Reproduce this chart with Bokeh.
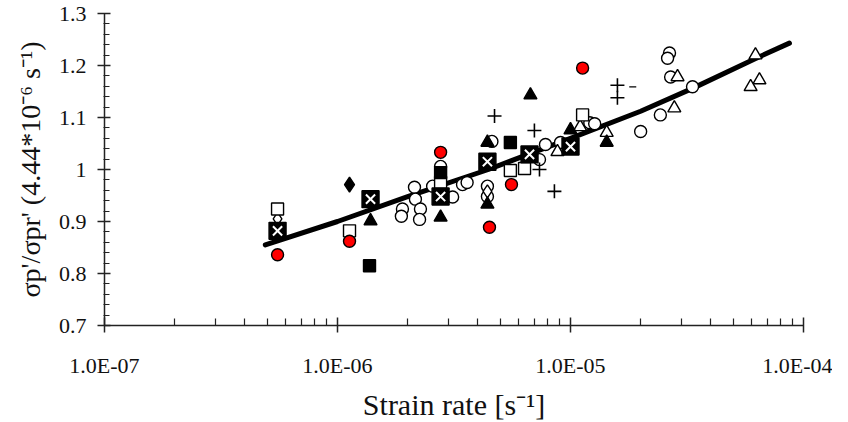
from bokeh.plotting import figure
from bokeh.models import Range1d, FixedTicker, CustomJSTickFormatter
from bokeh.embed import file_html
from bokeh.resources import INLINE

# ---------------- data ----------------
fit_x = [4.9e-7, 1.0e-6, 2.0e-6, 4.44e-6, 1.0e-5, 2.0e-5, 3.34e-5, 6.2e-5, 8.7e-5]
fit_y = [0.855, 0.900, 0.948, 1.000, 1.060, 1.112, 1.156, 1.213, 1.243]

open_circle_x = [1.90e-6, 1.88e-6, 2.14e-6, 2.16e-6, 2.27e-6, 2.25e-6, 2.56e-6, 2.77e-6, 3.12e-6,
                 3.44e-6, 3.60e-6, 4.40e-6, 4.40e-6, 4.60e-6, 7.36e-6, 7.81e-6, 9.06e-6, 1.21e-5,
                 1.27e-5, 2.0e-5, 2.43e-5, 2.66e-5, 2.61e-5, 2.69e-5, 3.34e-5]
open_circle_y = [0.924, 0.910, 0.966, 0.943, 0.924, 0.904, 0.968, 1.006, 0.947,
                 0.971, 0.975, 0.968, 0.948, 1.054, 1.019, 1.048, 1.052, 1.090,
                 1.088, 1.073, 1.105, 1.224, 1.214, 1.178, 1.159]

open_square_x = [5.53e-7, 1.126e-6, 2.77e-6, 5.52e-6, 6.35e-6, 1.127e-5]
open_square_y = [0.924, 0.882, 0.975, 0.998, 1.002, 1.105]

black_square_x = [1.372e-6, 2.77e-6, 5.52e-6]
black_square_y = [0.815, 0.994, 1.052]

xsquare_x = [5.53e-7, 1.386e-6, 2.77e-6, 4.40e-6, 6.67e-6, 1.0e-5]
xsquare_y = [0.882, 0.943, 0.948, 1.015, 1.029, 1.044]

red_circle_x = [5.53e-7, 1.126e-6, 2.77e-6, 4.49e-6, 5.58e-6, 1.127e-5]
red_circle_y = [0.836, 0.862, 1.033, 0.889, 0.971, 1.195]

black_tri_x = [1.386e-6, 2.77e-6, 4.40e-6, 4.40e-6, 6.73e-6, 1.0e-5, 1.43e-5]
black_tri_y = [0.901, 0.908, 1.052, 0.933, 1.143, 1.076, 1.052]

open_tri_x = [8.79e-6, 1.10e-5, 1.43e-5, 2.79e-5, 2.88e-5, 6.22e-5, 6.47e-5, 5.93e-5]
open_tri_y = [1.034, 1.082, 1.071, 1.118, 1.178, 1.220, 1.172, 1.159]

cross_x = [4.72e-6, 7.0e-6, 7.36e-6, 8.53e-6, 1.59e-5, 1.59e-5]
cross_y = [1.103, 1.075, 1.000, 0.958, 1.162, 1.138]

dash_x = [1.85e-5]
dash_y = [1.159]

black_diamond_x = [1.126e-6]
black_diamond_y = [0.971]

open_diamond_x = [5.53e-7, 4.40e-6]
open_diamond_y = [0.905, 0.958]

x_major = [1e-7, 1e-6, 1e-5, 1e-4]
y_major = [0.7, 0.8, 0.9, 1.0, 1.1, 1.2, 1.3]

# ---------------- figure ----------------
FONT = "Liberation Serif"
p = figure(x_axis_type="log", output_backend="svg", toolbar_location=None,
           frame_width=699, frame_height=312, min_border_left=104, min_border_right=29,
           min_border_top=13, min_border_bottom=80,
           x_range=Range1d(1e-7, 1e-4), y_range=Range1d(0.7, 1.3))
p.outline_line_color = None
p.xgrid.visible = False
p.ygrid.visible = False
p.background_fill_color = "white"
p.border_fill_color = "white"

x_minor = [m * d for d in x_major[:-1] for m in range(2, 10)]
y_minor = [round(0.7 + 0.02 * i, 2) for i in range(31)]

xa = p.xaxis[0]
xa.ticker = FixedTicker(ticks=x_major, minor_ticks=x_minor)
xa.formatter = CustomJSTickFormatter(code="""
const e = Math.round(Math.log10(tick));
const a = Math.abs(e);
return "1.0E" + (e < 0 ? "-" : "+") + (a < 10 ? "0" : "") + a;
""")
xa.major_tick_in = 8
xa.major_tick_out = 7
xa.minor_tick_in = 7
xa.minor_tick_out = 0
xa.major_label_standoff = 20
xa.axis_label = "Strain rate [s\u207b\u00b9]"
xa.axis_label_standoff = 7

ya = p.yaxis[0]
ya.ticker = FixedTicker(ticks=y_major, minor_ticks=y_minor)
ya.formatter = CustomJSTickFormatter(code="return String(Math.round(tick*10)/10);")
ya.major_tick_in = 6
ya.major_tick_out = 7
ya.minor_tick_in = 5
ya.minor_tick_out = 1
ya.major_label_standoff = 11
ya.axis_label = "\u03c3p'/\u03c3pr' (4.44*10\u207b\u2076 s\u207b\u00b9)"
ya.axis_label_standoff = 10

for ax in (xa, ya):
    ax.axis_line_color = "#222222"
    ax.axis_line_width = 1.5
    ax.major_tick_line_color = "#222222"
    ax.major_tick_line_width = 1.5
    ax.minor_tick_line_color = "#222222"
    ax.minor_tick_line_width = 1.2
    ax.major_label_text_font = FONT
    ax.major_label_text_font_size = "22px"
    ax.major_label_text_color = "#111111"
    ax.axis_label_text_font = FONT
    ax.axis_label_text_font_style = "normal"
    ax.axis_label_text_color = "#111111"
xa.axis_label_text_font_size = "30px"
ya.axis_label_text_font_size = "28px"

# fit line
p.line(fit_x, fit_y, line_color="black", line_width=5, line_cap="round", line_join="round")

lw = 1.4
p.scatter(open_circle_x, open_circle_y, marker="circle", size=12,
          fill_color="white", line_color="black", line_width=lw)
p.scatter(open_diamond_x, open_diamond_y, marker="diamond", size=13,
          fill_color="white", line_color="black", line_width=lw)
p.scatter(open_tri_x, open_tri_y, marker="triangle", size=13,
          fill_color="white", line_color="black", line_width=lw)
p.scatter(black_tri_x, black_tri_y, marker="triangle", size=13,
          fill_color="black", line_color="black", line_width=lw)
p.scatter(open_square_x, open_square_y, marker="square", size=12,
          fill_color="white", line_color="black", line_width=lw)
p.scatter(black_square_x, black_square_y, marker="square", size=12,
          fill_color="black", line_color="black", line_width=lw)
p.scatter(xsquare_x, xsquare_y, marker="square", size=17,
          fill_color="black", line_color="black", line_width=lw)
p.scatter(xsquare_x, xsquare_y, marker="x", size=13,
          line_color="white", line_width=2)
p.scatter(red_circle_x, red_circle_y, marker="circle", size=12,
          fill_color="#ff0000", line_color="black", line_width=lw)
p.scatter(cross_x, cross_y, marker="cross", size=14,
          line_color="black", line_width=1.6)
p.scatter(dash_x, dash_y, marker="dash", size=7,
          line_color="black", line_width=1.2)
p.scatter(black_diamond_x, black_diamond_y, marker="diamond", size=15,
          fill_color="black", line_color="black", line_width=lw)

open("out.html", "w").write(file_html(p, INLINE))
